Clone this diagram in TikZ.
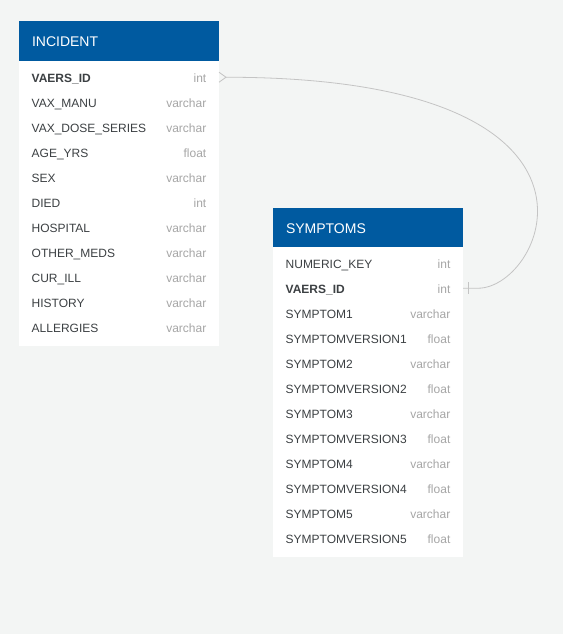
\documentclass[tikz,border=0pt]{standalone}
\usepackage{fontspec}
\setmainfont{Liberation Sans}
\usepackage{xcolor}
\usetikzlibrary{positioning,backgrounds}

\definecolor{canvas}{HTML}{F3F5F4}
\definecolor{hdblue}{HTML}{005AA0}
\definecolor{rowtext}{HTML}{3C4043}
\definecolor{typegrey}{HTML}{A6A6A6}
\definecolor{linkgrey}{HTML}{C4C4C4}

\newcommand{\typ}[1]{\hfill{\color{typegrey}#1}}

\begin{document}
\begin{tikzpicture}[
    x=0.75pt, y=-0.75pt,
    node distance=0pt,
    head/.style={rectangle, fill=hdblue, text=white, anchor=north west, inner xsep=9.75pt, inner ysep=0pt,
        outer sep=0pt, minimum height=30pt, text height=9pt, text depth=0pt, align=left,
        font=\fontsize{10.5}{12}\selectfont},
    row/.style={rectangle, inner xsep=9.5pt, inner ysep=0pt, outer sep=0pt, minimum height=18.75pt,
        text height=8.6pt, text depth=1.4pt, text=rowtext, font=\fontsize{9}{11}\selectfont},
    incrow/.style={row, text width=131pt},
    symrow/.style={row, text width=123.5pt},
    link/.style={draw=linkgrey, line width=0.6pt}
]

\begin{scope}[on background layer]
\fill[canvas] (0,0) rectangle (563,634);
\end{scope}
\useasboundingbox (0,0) rectangle (563,634);

% INCIDENT table
\node[head, minimum width=150pt, text width=130.5pt] (inc-head) at (19,21) {INCIDENT};
\node[incrow, below=2.8pt of inc-head] (inc-1) {\textbf{VAERS\_ID}\typ{int}};
\node[incrow, below=of inc-1] (inc-2) {VAX\_MANU\typ{varchar}};
\node[incrow, below=of inc-2] (inc-3) {VAX\_DOSE\_SERIES\typ{varchar}};
\node[incrow, below=of inc-3] (inc-4) {AGE\_YRS\typ{float}};
\node[incrow, below=of inc-4] (inc-5) {SEX\typ{varchar}};
\node[incrow, below=of inc-5] (inc-6) {DIED\typ{int}};
\node[incrow, below=of inc-6] (inc-7) {HOSPITAL\typ{varchar}};
\node[incrow, below=of inc-7] (inc-8) {OTHER\_MEDS\typ{varchar}};
\node[incrow, below=of inc-8] (inc-9) {CUR\_ILL\typ{varchar}};
\node[incrow, below=of inc-9] (inc-10) {HISTORY\typ{varchar}};
\node[incrow, below=of inc-10] (inc-11) {ALLERGIES\typ{varchar}};

% SYMPTOMS table
\node[head, minimum width=142.5pt, minimum height=29.25pt, text width=123pt] (sym-head) at (273,208) {SYMPTOMS};
\node[symrow, below=2.8pt of sym-head] (sym-1) {NUMERIC\_KEY\typ{int}};
\node[symrow, below=of sym-1] (sym-2) {\textbf{VAERS\_ID}\typ{int}};
\node[symrow, below=of sym-2] (sym-3) {SYMPTOM1\typ{varchar}};
\node[symrow, below=of sym-3] (sym-4) {SYMPTOMVERSION1\typ{float}};
\node[symrow, below=of sym-4] (sym-5) {SYMPTOM2\typ{varchar}};
\node[symrow, below=of sym-5] (sym-6) {SYMPTOMVERSION2\typ{float}};
\node[symrow, below=of sym-6] (sym-7) {SYMPTOM3\typ{varchar}};
\node[symrow, below=of sym-7] (sym-8) {SYMPTOMVERSION3\typ{float}};
\node[symrow, below=of sym-8] (sym-9) {SYMPTOM4\typ{varchar}};
\node[symrow, below=of sym-9] (sym-10) {SYMPTOMVERSION4\typ{float}};
\node[symrow, below=of sym-10] (sym-11) {SYMPTOM5\typ{varchar}};
\node[symrow, below=of sym-11] (sym-12) {SYMPTOMVERSION5\typ{float}};

% white table bodies
\begin{scope}[on background layer]
\fill[white] (inc-head.south west) rectangle ([yshift=-4.5pt]inc-11.south east);
\fill[white] (sym-head.south west) rectangle ([yshift=-4.5pt]sym-12.south east);
\end{scope}

% relationship: many (INCIDENT) to one (SYMPTOMS)
\draw[link] ([yshift=3.75pt]inc-1.east) -- ([xshift=5.25pt]inc-1.east) -- ([yshift=-3.75pt]inc-1.east);
\draw[link] ([xshift=5.25pt]inc-1.east) .. controls +(414,0) and +(67,0) .. ([xshift=11.25pt]sym-2.east) -- (sym-2.east);
\draw[link] ([xshift=3.75pt,yshift=4.5pt]sym-2.east) -- ([xshift=3.75pt,yshift=-4.5pt]sym-2.east);

\end{tikzpicture}
\end{document}
